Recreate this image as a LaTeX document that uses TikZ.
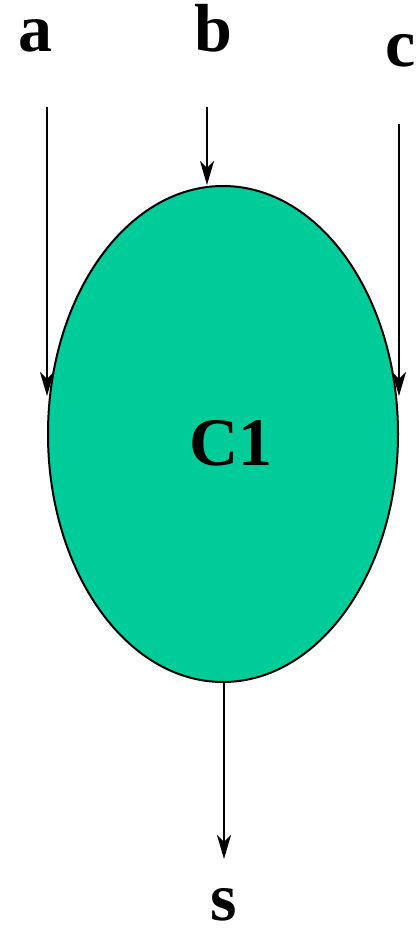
\documentclass[tikz,border=0pt]{standalone}
\usepackage{fontspec}
\setmainfont{Liberation Serif}
\usetikzlibrary{arrows.meta,shapes.geometric}
\definecolor{cfill}{RGB}{0,204,153}
\begin{document}
\begin{tikzpicture}[x=1pt,y=-1pt,
  lbl/.style={anchor=base,inner sep=0pt,font=\fontsize{68}{80}\selectfont\bfseries},
  conn/.style={line width=2.2pt,-{Stealth[length=24pt,width=14pt,inset=7pt]}},
  blob/.style={ellipse,draw,line width=2pt,fill=cfill,minimum width=350pt,minimum height=496pt,inner sep=0pt}]
\useasboundingbox (0,0) rectangle (415,931);
\node[blob] (C1) at (223,434) {};
\node[lbl] (C1t) at (231,465) {C1};
\node[lbl] (la) at (35,52) {a};
\node[lbl] (lb) at (213,52) {b};
\node[lbl] (lc) at (401,67) {c};
\node[lbl] (ls) at (224,920) {s};
\coordinate (a0) at (47,107);
\coordinate (a1) at (47,396);
\coordinate (b0) at (207,107);
\coordinate (c0) at (399,124);
\coordinate (c1) at (399,396);
\coordinate (s1) at (224,859);
\draw[conn] (a0) -- (a1);
\draw[conn] (b0) -- (b0 |- C1.north);
\draw[conn] (c0) -- (c1);
\draw[conn] (C1.south -| s1) -- (s1);
\end{tikzpicture}
\end{document}
